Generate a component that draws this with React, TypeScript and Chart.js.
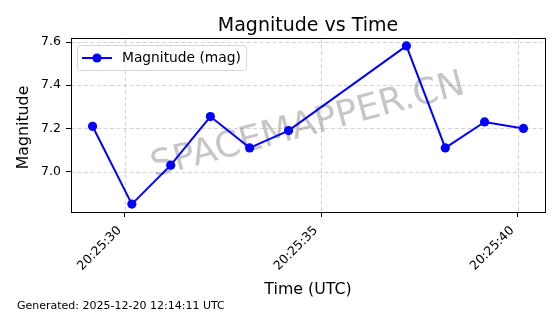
import React, { useEffect, useRef } from "react";
import { Chart, registerables } from "chart.js";

Chart.register(...registerables);

// ---- data ----
const TIMES = [
  "20:25:29.18",
  "20:25:30.18",
  "20:25:31.17",
  "20:25:32.18",
  "20:25:33.18",
  "20:25:34.17",
  "20:25:37.17",
  "20:25:38.16",
  "20:25:39.16",
  "20:25:40.15",
];
const MAGNITUDES = [7.21, 6.85, 7.03, 7.255, 7.11, 7.19, 7.582, 7.11, 7.23, 7.2];
const X_TICK_STEP_SECONDS = 5;
const Y_TICK_STEP = 0.2;

const SERIES_LABEL = "Magnitude (mag)";
const TITLE = "Magnitude vs Time";
const X_TITLE = "Time (UTC)";
const Y_TITLE = "Magnitude";
const FOOTER = "Generated: 2025-12-20 12:14:11 UTC";
const WATERMARK = "SPACEMAPPER.CN";

const FONT = '"DejaVu Sans", sans-serif';
const BLUE = "#0000ff";

function toSeconds(t: string): number {
  const [h, m, s] = t.split(":");
  return Number(h) * 3600 + Number(m) * 60 + Number(s);
}
function fmtTime(v: number): string {
  const total = Math.round(v);
  const h = Math.floor(total / 3600);
  const m = Math.floor((total % 3600) / 60);
  const s = total % 60;
  const p = (n: number) => String(n).padStart(2, "0");
  return `${p(h)}:${p(m)}:${p(s)}`;
}
function padded(vals: number[], frac = 0.05) {
  const lo = Math.min(...vals);
  const hi = Math.max(...vals);
  const d = (hi - lo) * frac;
  return { min: lo - d, max: hi + d };
}

const decor = {
  id: "decor",
  beforeDatasetsDraw(chart: any) {
    const { ctx, chartArea: a, scales } = chart;
    const x = scales.x;
    const y = scales.y;
    ctx.save();
    ctx.strokeStyle = "#c8c8c8";
    ctx.lineWidth = 0.8;
    ctx.setLineDash([4, 2.5]);
    x.ticks.forEach((t: any) => {
      const px = Math.round(x.getPixelForValue(t.value)) + 0.5;
      ctx.beginPath();
      ctx.moveTo(px, a.top);
      ctx.lineTo(px, a.bottom);
      ctx.stroke();
    });
    y.ticks.forEach((t: any) => {
      const py = Math.round(y.getPixelForValue(t.value)) + 0.5;
      ctx.beginPath();
      ctx.moveTo(a.left, py);
      ctx.lineTo(a.right, py);
      ctx.stroke();
    });
    ctx.setLineDash([]);
    // watermark
    ctx.translate((a.left + a.right) / 2, (a.top + a.bottom) / 2 + 1);
    ctx.rotate((-15 * Math.PI) / 180);
    ctx.font = `36px ${FONT}`;
    ctx.fillStyle = "rgba(128,128,128,0.45)";
    ctx.textAlign = "center";
    ctx.textBaseline = "middle";
    ctx.fillText(WATERMARK, 0, 0);
    ctx.restore();
  },
  afterDraw(chart: any) {
    const { ctx, chartArea: a, scales } = chart;
    const x = scales.x;
    ctx.save();
    // spines
    ctx.strokeStyle = "#000";
    ctx.lineWidth = 1;
    ctx.strokeRect(
      Math.round(a.left) + 0.5,
      Math.round(a.top) + 0.5,
      Math.round(a.right) - Math.round(a.left),
      Math.round(a.bottom) - Math.round(a.top)
    );

    // rotated x tick labels (matplotlib style, right-anchored at the tick)
    ctx.fillStyle = "#000";
    ctx.font = `12.5px ${FONT}`;
    ctx.textAlign = "right";
    ctx.textBaseline = "alphabetic";
    x.ticks.forEach((t: any) => {
      const px = x.getPixelForValue(t.value);
      ctx.save();
      ctx.translate(px - 3, a.bottom + 19);
      ctx.rotate(-Math.PI / 4);
      ctx.fillText(fmtTime(t.value), 0, 0);
      ctx.restore();
    });

    // legend
    const lx = 77.5, ly = 45.5, lw = 169, lh = 25, r = 3;
    ctx.beginPath();
    ctx.moveTo(lx + r, ly);
    ctx.lineTo(lx + lw - r, ly);
    ctx.quadraticCurveTo(lx + lw, ly, lx + lw, ly + r);
    ctx.lineTo(lx + lw, ly + lh - r);
    ctx.quadraticCurveTo(lx + lw, ly + lh, lx + lw - r, ly + lh);
    ctx.lineTo(lx + r, ly + lh);
    ctx.quadraticCurveTo(lx, ly + lh, lx, ly + lh - r);
    ctx.lineTo(lx, ly + r);
    ctx.quadraticCurveTo(lx, ly, lx + r, ly);
    ctx.closePath();
    ctx.fillStyle = "rgba(255,255,255,0.8)";
    ctx.fill();
    ctx.strokeStyle = "#d6d6d6";
    ctx.lineWidth = 1;
    ctx.stroke();
    ctx.strokeStyle = BLUE;
    ctx.lineWidth = 2;
    ctx.beginPath();
    ctx.moveTo(82, 58);
    ctx.lineTo(112, 58);
    ctx.stroke();
    ctx.fillStyle = BLUE;
    ctx.beginPath();
    ctx.arc(97, 58, 4.6, 0, Math.PI * 2);
    ctx.fill();
    ctx.fillStyle = "#000";
    ctx.font = `13.8px ${FONT}`;
    ctx.textAlign = "left";
    ctx.textBaseline = "middle";
    ctx.fillText(SERIES_LABEL, 122, 58);

    // title
    const cx = (a.left + a.right) / 2;
    ctx.textAlign = "center";
    ctx.textBaseline = "alphabetic";
    ctx.font = `19px ${FONT}`;
    ctx.fillText(TITLE, cx, 31);
    // x title
    ctx.font = `15.8px ${FONT}`;
    ctx.fillText(X_TITLE, cx, 294);
    // y title
    ctx.save();
    ctx.translate(27.5, 127.5);
    ctx.rotate(-Math.PI / 2);
    ctx.fillText(Y_TITLE, 0, 0);
    ctx.restore();
    // footer
    ctx.textAlign = "left";
    ctx.font = `11px ${FONT}`;
    ctx.fillText(FOOTER, 17, 308.5);
    ctx.restore();
  },
};

export default function App() {
  const ref = useRef<HTMLCanvasElement | null>(null);

  useEffect(() => {
    const canvas = ref.current;
    if (!canvas) return;
    const xs = TIMES.map(toSeconds);
    const xr = padded(xs);
    const yr = padded(MAGNITUDES);
    const points = xs.map((x, i) => ({ x, y: MAGNITUDES[i] }));

    const chart = new Chart(canvas, {
      type: "line",
      data: {
        datasets: [
          {
            label: SERIES_LABEL,
            data: points,
            borderColor: BLUE,
            backgroundColor: BLUE,
            borderWidth: 2,
            pointRadius: 4.6,
            pointHoverRadius: 4.6,
            pointBorderWidth: 0,
            pointBackgroundColor: BLUE,
            tension: 0,
            fill: false,
          },
        ],
      },
      options: {
        animation: false,
        responsive: false,
        devicePixelRatio: 1,
        layout: { padding: { top: 38, right: 15, left: 0, bottom: 0 } },
        plugins: {
          legend: { display: false },
          tooltip: { enabled: false },
          title: { display: false },
        },
        scales: {
          x: {
            type: "linear",
            min: xr.min,
            max: xr.max,
            afterFit: (s: any) => {
              s.height = 102;
            },
            border: { display: false },
            grid: {
              drawOnChartArea: false,
              drawTicks: true,
              tickLength: 5,
              tickColor: "#000",
              tickWidth: 1,
            },
            ticks: {
              display: false,
              stepSize: X_TICK_STEP_SECONDS,
              includeBounds: false,
              autoSkip: false,
              callback: (v: any) => fmtTime(Number(v)),
            },
          },
          y: {
            type: "linear",
            min: yr.min,
            max: yr.max,
            afterFit: (s: any) => {
              s.width = 71;
            },
            border: { display: false },
            grid: {
              drawOnChartArea: false,
              drawTicks: true,
              tickLength: 5,
              tickColor: "#000",
              tickWidth: 1,
            },
            ticks: {
              stepSize: Y_TICK_STEP,
              includeBounds: false,
              padding: 5,
              color: "#000",
              font: { family: FONT, size: 12.5 },
              callback: (v: any) => Number(v).toFixed(1),
            },
          },
        },
      },
      plugins: [decor],
    } as any);

    return () => chart.destroy();
  }, []);

  return (
    <div style={{ position: "fixed", left: 0, top: 0, width: 560, height: 314, background: "#fff" }}>
      <canvas ref={ref} width={560} height={314} style={{ width: 560, height: 314, display: "block" }} />
    </div>
  );
}
